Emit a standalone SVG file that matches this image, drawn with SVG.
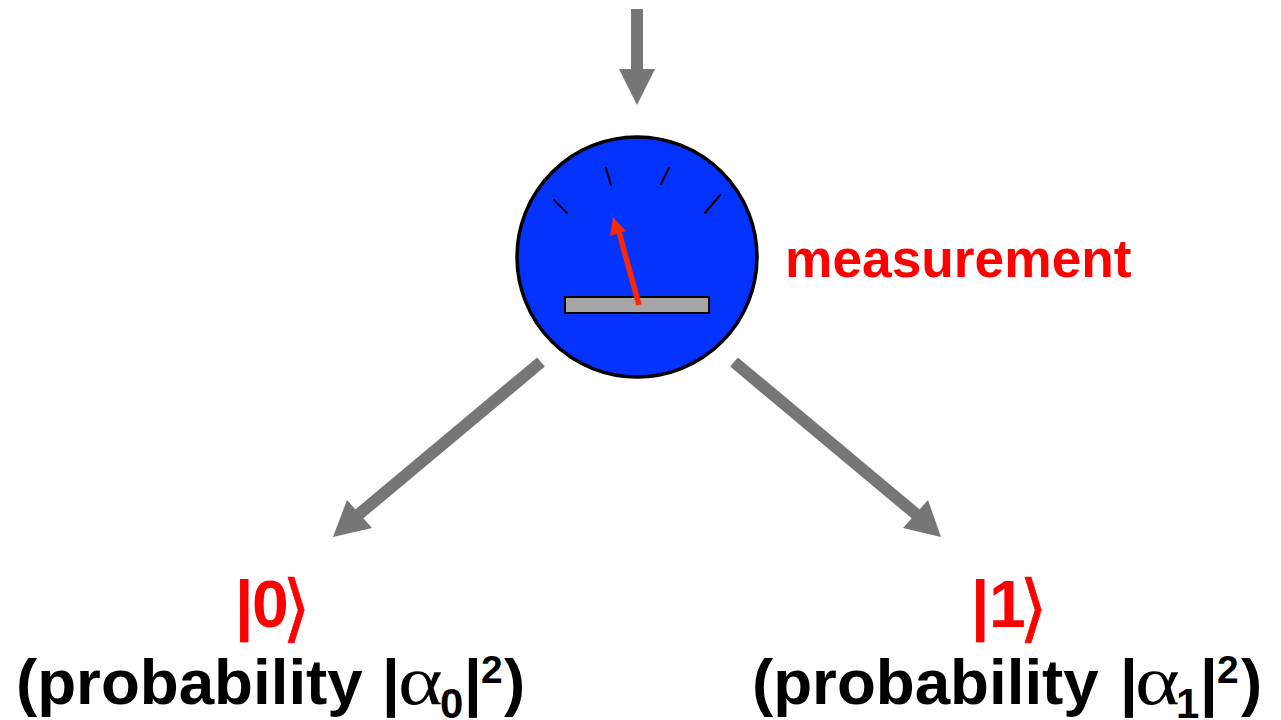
<svg xmlns="http://www.w3.org/2000/svg" width="1281" height="720" viewBox="0 0 1281 720">
<style>
.t{font-family:"Liberation Sans",Arial,sans-serif;font-weight:700}
.b{font-size:63.7px;fill:#000}
.u{font-size:42px;fill:#000}
.p{font-size:39px;fill:#000}
.r{fill:#f00}
.k0{font-size:66px}
.a{font-family:"DejaVu Sans",sans-serif;font-size:74px;fill:#f00;stroke:#f00;stroke-width:.6}
.s{font-family:"Liberation Serif",serif;font-size:70px;fill:#000}
.c{stroke:#767676;stroke-width:12;fill:none}
.h{fill:#767676}
.k{stroke:#000;stroke-width:2;stroke-linecap:round}
</style>
<rect width="1281" height="720" fill="#fff"/>
<g id="connectors">
<line class="c" x1="637" y1="9" x2="637" y2="72"/><polygon class="h" points="619,69 655,69 637,105"/>
<line class="c" x1="541" y1="362" x2="358" y2="515"/><polygon class="h" points="333,537 347,500 372,528"/>
<line class="c" x1="734" y1="362" x2="917" y2="515"/><polygon class="h" points="941,537 903,528 928,500"/>
</g>
<g id="meter">
<circle cx="637" cy="257" r="120" fill="#0433ff" stroke="#000" stroke-width="3.5"/>
<line class="k" x1="554" y1="200" x2="567" y2="213"/>
<line class="k" x1="606" y1="168" x2="611" y2="185"/>
<line class="k" x1="669" y1="168" x2="661" y2="184"/>
<line class="k" x1="720" y1="195" x2="705" y2="213"/>
<rect x="565" y="297" width="144" height="16" fill="#a6a6a6" stroke="#000" stroke-width="2"/>
<line x1="639" y1="305" x2="619" y2="232" stroke="#ff2600" stroke-width="5.5"/>
<polygon points="613,217 626,231 610,236" fill="#ff2600"/>
</g>
<g id="measurement-label"><text class="t r" x="785" y="277" font-size="53.3">measurement</text></g>
<g id="state-0">
<text class="t r k0" x="235" y="627">|</text>
<text class="t r k0" x="252" y="627">0</text>
<text class="a" x="282" y="633">⟩</text>
<text class="t b" x="16" y="704">(probability</text>
<text class="t b" x="382" y="704">|</text>
<text class="s" transform="translate(398,704) scale(1.22,1)">α</text>
<text class="t u" x="440" y="718">0</text>
<text class="t b" x="464" y="704">|</text>
<text class="t p" x="481" y="683">2</text>
<text class="t b" x="504" y="704">)</text>
</g>
<g id="state-1">
<text class="t r k0" x="971" y="627">|</text>
<text class="t r k0" x="989" y="627">1</text>
<text class="a" x="1019" y="633">⟩</text>
<text class="t b" x="752" y="704">(probability</text>
<text class="t b" x="1120" y="704">|</text>
<text class="s" transform="translate(1135,704) scale(1.22,1)">α</text>
<text class="t u" x="1176" y="718">1</text>
<text class="t b" x="1200" y="704">|</text>
<text class="t p" x="1217" y="683">2</text>
<text class="t b" x="1241" y="704">)</text>
</g>
</svg>
